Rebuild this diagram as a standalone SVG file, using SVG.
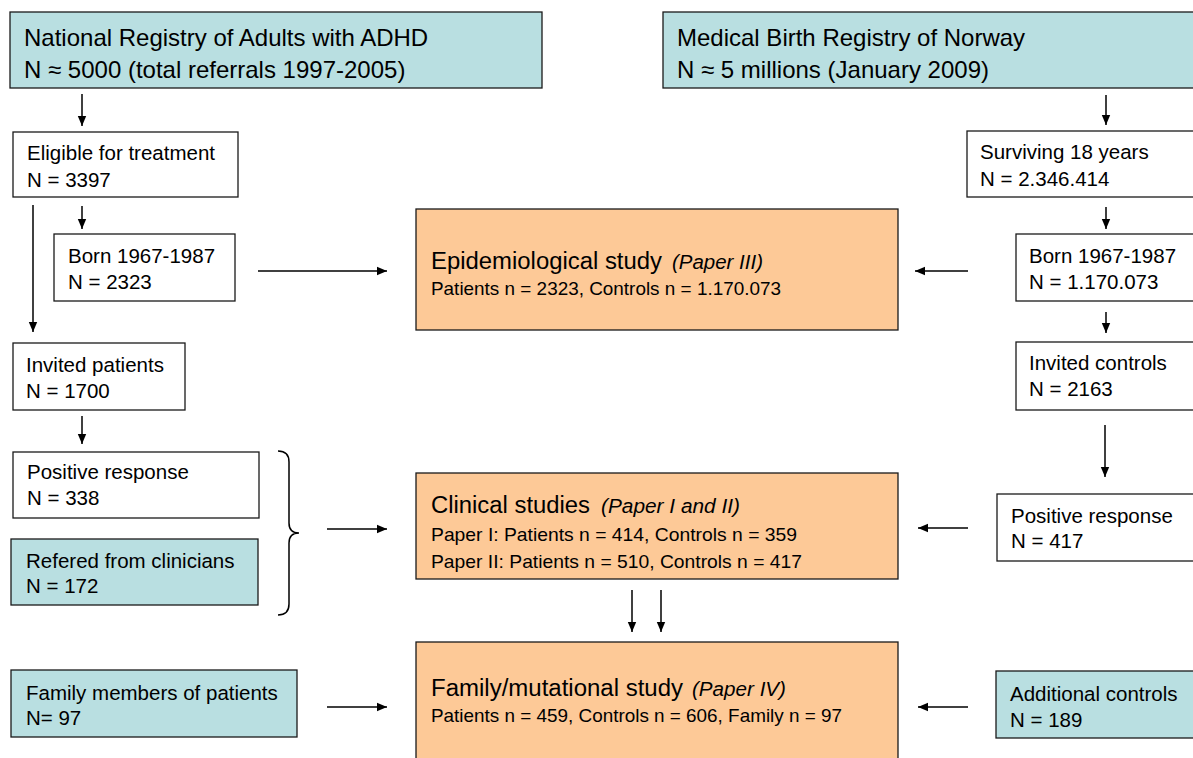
<svg xmlns="http://www.w3.org/2000/svg" width="1193" height="758" viewBox="0 0 1193 758">
<style>
  .box { stroke: #1a1a1a; stroke-width: 1.3; }
  .teal { fill: #b9dfe1; }
  .white { fill: #ffffff; }
  .orange { fill: #fdc997; }
  text { font-family: "Liberation Sans", Arial, sans-serif; fill: #000; }
  .big { font-size: 24px; }
  .mid { font-size: 20.5px; }
  .title { font-size: 23px; }
  .sub { font-size: 19px; }
  .it { font-style: italic; font-size: 20px; }
  .conn line, .conn path { stroke: #000; stroke-width: 1.5; fill: none; }
</style>
<defs>
  <marker id="ah" markerUnits="userSpaceOnUse" markerWidth="10" markerHeight="10" refX="10" refY="5" orient="auto">
    <path d="M0,0.8 L10,5 L0,9.2 z" fill="#000"/>
  </marker>
</defs>
<rect width="1193" height="758" fill="#ffffff"/>

<g id="n-national">
  <rect class="box teal" x="10" y="12" width="532" height="76"/>
  <text class="big" x="24" y="46">National Registry of Adults with ADHD</text>
  <text class="big" x="24" y="78">N ≈ 5000 (total referrals 1997-2005)</text>
</g>
<g id="n-medical">
  <rect class="box teal" x="663" y="12" width="540" height="76"/>
  <text class="big" x="677" y="46">Medical Birth Registry of Norway</text>
  <text class="big" x="677" y="78">N ≈ 5 millions (January 2009)</text>
</g>
<g id="n-eligible">
  <rect class="box white" x="13" y="132" width="225" height="65"/>
  <text class="mid" x="27" y="160">Eligible for treatment</text>
  <text class="mid" x="27" y="187">N = 3397</text>
</g>
<g id="n-born-pat">
  <rect class="box white" x="54" y="234" width="181" height="67"/>
  <text class="mid" x="68" y="263">Born 1967-1987</text>
  <text class="mid" x="68" y="289">N = 2323</text>
</g>
<g id="n-invited-pat">
  <rect class="box white" x="13" y="343" width="172" height="67"/>
  <text class="mid" x="26" y="372">Invited patients</text>
  <text class="mid" x="26" y="398">N = 1700</text>
</g>
<g id="n-positive-pat">
  <rect class="box white" x="13" y="452" width="246" height="66"/>
  <text class="mid" x="27" y="479">Positive response</text>
  <text class="mid" x="27" y="505">N = 338</text>
</g>
<g id="n-refered">
  <rect class="box teal" x="11" y="539" width="247" height="66"/>
  <text class="mid" x="26" y="568">Refered from clinicians</text>
  <text class="mid" x="26" y="593">N = 172</text>
</g>
<g id="n-family-members">
  <rect class="box teal" x="11" y="670" width="286" height="67"/>
  <text class="mid" x="26" y="700">Family members of patients</text>
  <text class="mid" x="26" y="725">N= 97</text>
</g>
<g id="n-epi">
  <rect class="box orange" x="416" y="209" width="482" height="121"/>
  <text class="title" x="431" y="269" textLength="231" lengthAdjust="spacingAndGlyphs">Epidemiological study</text>
  <text class="it" x="672" y="269" textLength="91" lengthAdjust="spacingAndGlyphs">(Paper III)</text>
  <text class="sub" x="431" y="295" textLength="350" lengthAdjust="spacingAndGlyphs">Patients n = 2323, Controls n = 1.170.073</text>
</g>
<g id="n-clinical">
  <rect class="box orange" x="416" y="473" width="482" height="106"/>
  <text class="title" x="431" y="513" textLength="159" lengthAdjust="spacingAndGlyphs">Clinical studies</text>
  <text class="it" x="601" y="513" textLength="139" lengthAdjust="spacingAndGlyphs">(Paper I and II)</text>
  <text class="sub" x="431" y="541" textLength="366" lengthAdjust="spacingAndGlyphs">Paper I: Patients n = 414, Controls n = 359</text>
  <text class="sub" x="431" y="568" textLength="371" lengthAdjust="spacingAndGlyphs">Paper II: Patients n = 510, Controls n = 417</text>
</g>
<g id="n-family-study">
  <rect class="box orange" x="416" y="642" width="482" height="130"/>
  <text class="title" x="431" y="696" textLength="252" lengthAdjust="spacingAndGlyphs">Family/mutational study</text>
  <text class="it" x="692" y="696" textLength="94" lengthAdjust="spacingAndGlyphs">(Paper IV)</text>
  <text class="sub" x="431" y="722" textLength="411" lengthAdjust="spacingAndGlyphs">Patients n = 459, Controls n = 606, Family n = 97</text>
</g>
<g id="n-surviving">
  <rect class="box white" x="967" y="131" width="240" height="66"/>
  <text class="mid" x="980" y="159">Surviving 18 years</text>
  <text class="mid" x="980" y="186">N = 2.346.414</text>
</g>
<g id="n-born-ctrl">
  <rect class="box white" x="1016" y="234" width="190" height="67"/>
  <text class="mid" x="1029" y="263">Born 1967-1987</text>
  <text class="mid" x="1029" y="289">N = 1.170.073</text>
</g>
<g id="n-invited-ctrl">
  <rect class="box white" x="1016" y="342" width="190" height="68"/>
  <text class="mid" x="1029" y="370">Invited controls</text>
  <text class="mid" x="1029" y="396">N = 2163</text>
</g>
<g id="n-positive-ctrl">
  <rect class="box white" x="997" y="494" width="210" height="67"/>
  <text class="mid" x="1011" y="523">Positive response</text>
  <text class="mid" x="1011" y="548">N = 417</text>
</g>
<g id="n-additional">
  <rect class="box teal" x="996" y="671" width="210" height="67"/>
  <text class="mid" x="1010" y="701">Additional controls</text>
  <text class="mid" x="1010" y="727">N = 189</text>
</g>

<g id="connectors" class="conn">
  <line x1="82" y1="94" x2="82" y2="126" marker-end="url(#ah)"/>
  <line x1="82" y1="206" x2="82" y2="229" marker-end="url(#ah)"/>
  <line x1="33" y1="205" x2="33" y2="332" marker-end="url(#ah)"/>
  <line x1="258" y1="271" x2="387" y2="271" marker-end="url(#ah)"/>
  <line x1="82" y1="416" x2="82" y2="444" marker-end="url(#ah)"/>
  <path d="M278,451 Q289,451 289,462 L289,523 Q289,533 299,533 Q289,533 289,543 L289,604 Q289,615 278,615"/>
  <line x1="327" y1="529" x2="387" y2="529" marker-end="url(#ah)"/>
  <line x1="327" y1="707" x2="387" y2="707" marker-end="url(#ah)"/>
  <line x1="632" y1="590" x2="632" y2="632" marker-end="url(#ah)"/>
  <line x1="661" y1="590" x2="661" y2="632" marker-end="url(#ah)"/>
  <line x1="1106" y1="95" x2="1106" y2="125" marker-end="url(#ah)"/>
  <line x1="1106" y1="207" x2="1106" y2="229" marker-end="url(#ah)"/>
  <line x1="1106" y1="312" x2="1106" y2="333" marker-end="url(#ah)"/>
  <line x1="1105" y1="425" x2="1105" y2="477" marker-end="url(#ah)"/>
  <line x1="968" y1="271" x2="915" y2="271" marker-end="url(#ah)"/>
  <line x1="968" y1="528" x2="918" y2="528" marker-end="url(#ah)"/>
  <line x1="968" y1="707" x2="918" y2="707" marker-end="url(#ah)"/>
</g>
</svg>
